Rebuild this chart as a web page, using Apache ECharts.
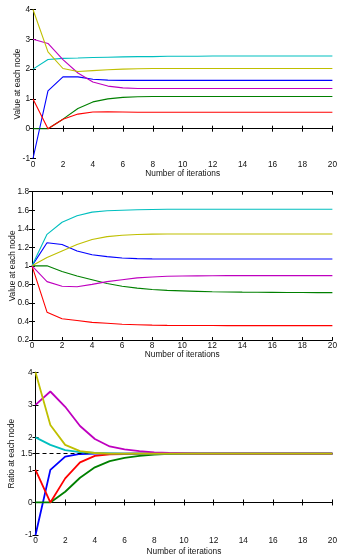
<!DOCTYPE html>
<html><head><meta charset="utf-8">
<script src="https://cdn.jsdelivr.net/npm/echarts@6/dist/echarts.min.js"></script>
<style>html,body{margin:0;padding:0;background:#fff}#c{width:340px;height:557px}</style>
</head><body><div id="c"></div>
<script>
const iterations = [0,1,2,3,4,5,6,7,8,9,10,11,12,13,14,15,16,17,18,19,20];
const xTicks = [0,2,4,6,8,10,12,14,16,18,20];

// Panel 1: value at each node
const p1Blue    = [-1,1.27,1.74,1.74,1.66,1.63,1.62,1.62,1.62,1.62,1.62,1.62,1.62,1.62,1.62,1.62,1.62,1.62,1.62,1.62,1.62];
const p1Green   = [0,0,0.32,0.68,0.90,1.00,1.05,1.07,1.08,1.08,1.08,1.08,1.08,1.08,1.08,1.08,1.08,1.08,1.08,1.08,1.08];
const p1Red     = [1,0,0.32,0.49,0.56,0.57,0.56,0.55,0.55,0.55,0.55,0.55,0.55,0.55,0.55,0.55,0.55,0.55,0.55,0.55,0.55];
const p1Cyan    = [2,2.32,2.36,2.37,2.39,2.40,2.41,2.42,2.42,2.43,2.43,2.43,2.44,2.44,2.44,2.44,2.44,2.44,2.44,2.44,2.44];
const p1Magenta = [3,2.86,2.32,1.87,1.57,1.43,1.37,1.35,1.35,1.35,1.35,1.35,1.35,1.35,1.35,1.35,1.35,1.35,1.35,1.35,1.35];
const p1Yellow  = [4,2.58,2.02,1.92,1.95,1.98,2.00,2.01,2.02,2.02,2.02,2.02,2.02,2.02,2.02,2.02,2.02,2.02,2.02,2.02,2.02];
const p1YTicks  = [-1,0,1,2,3,4];

// Panel 2: value at each node (normalized)
const p2Blue    = [1,1.25,1.23,1.16,1.12,1.10,1.085,1.078,1.075,1.074,1.074,1.074,1.074,1.074,1.074,1.074,1.074,1.074,1.074,1.074,1.074];
const p2Green   = [1,1.0,0.94,0.89,0.85,0.81,0.78,0.76,0.745,0.735,0.73,0.725,0.72,0.718,0.716,0.715,0.714,0.713,0.712,0.711,0.711];
const p2Red     = [1,0.50,0.43,0.41,0.39,0.38,0.37,0.365,0.36,0.358,0.357,0.356,0.356,0.355,0.355,0.355,0.355,0.355,0.355,0.355,0.355];
const p2Cyan    = [1,1.34,1.47,1.54,1.58,1.595,1.60,1.605,1.608,1.61,1.61,1.61,1.61,1.61,1.61,1.61,1.61,1.61,1.61,1.61,1.61];
const p2Magenta = [1,0.83,0.78,0.775,0.80,0.83,0.85,0.87,0.88,0.887,0.89,0.892,0.893,0.894,0.894,0.894,0.894,0.894,0.894,0.894,0.894];
const p2Yellow  = [1,1.09,1.16,1.23,1.285,1.315,1.33,1.338,1.342,1.344,1.344,1.344,1.344,1.344,1.344,1.344,1.344,1.344,1.344,1.344,1.344];
const p2YTicks  = [0.2,0.4,0.6,0.8,1,1.2,1.4,1.6,1.8];

// Panel 3: ratio at each node
const p3Blue    = [-1,1.0,1.41,1.49,1.50,1.50,1.50,1.50,1.50,1.50,1.50,1.50,1.50,1.50,1.50,1.50,1.50,1.50,1.50,1.50,1.50];
const p3Green   = [0,0,0.33,0.76,1.08,1.27,1.37,1.43,1.47,1.49,1.50,1.50,1.50,1.50,1.50,1.50,1.50,1.50,1.50,1.50,1.50];
const p3Red     = [1,0,0.74,1.23,1.43,1.48,1.49,1.50,1.50,1.50,1.50,1.50,1.50,1.50,1.50,1.50,1.50,1.50,1.50,1.50,1.50];
const p3Cyan    = [2,1.77,1.61,1.55,1.52,1.51,1.50,1.50,1.50,1.50,1.50,1.50,1.50,1.50,1.50,1.50,1.50,1.50,1.50,1.50,1.50];
const p3Magenta = [3,3.41,2.94,2.35,1.95,1.72,1.63,1.58,1.54,1.52,1.51,1.50,1.50,1.50,1.50,1.50,1.50,1.50,1.50,1.50,1.50];
const p3Yellow  = [4,2.38,1.77,1.58,1.52,1.50,1.50,1.50,1.50,1.50,1.50,1.50,1.50,1.50,1.50,1.50,1.50,1.50,1.50,1.50,1.50];
const p3YTicks  = [-1,0,1,1.5,2,3,4];
const consensus = 1.5;

const colors = ['#0000ff','#008000','#ff0000','#00bfbf','#bf00bf','#bfbf00'];
const FONT = "'Liberation Sans', Arial, sans-serif";
const FS = 8.3;

const panels = [
  {grid:{left:33,top:9.5,width:302,height:149}, ymin:-1,ymax:4,ticks:p1YTicks, yname:'Value at each node', ygap:11.5, xgap:11,
   data:[p1Blue,p1Green,p1Red,p1Cyan,p1Magenta,p1Yellow], lw:1.1},
  {grid:{left:32,top:191.7,width:301,height:148.3}, ymin:0.2,ymax:1.8,ticks:p2YTicks, yname:'Value at each node', ygap:15.5, xgap:10.5,
   data:[p2Blue,p2Green,p2Red,p2Cyan,p2Magenta,p2Yellow], lw:1.1},
  {grid:{left:34,top:372.3,width:299,height:162.7}, ymin:-1,ymax:4,ticks:p3YTicks, yname:'Ratio at each node', ygap:19.5, xgap:13,
   data:[p3Blue,p3Green,p3Red,p3Cyan,p3Magenta,p3Yellow], lw:1.8, target:consensus}
];

const grid=[], xAxis=[], yAxis=[], series=[];
const axLine = {show:true, lineStyle:{color:'#000', width:1}};
const tick = {show:true, inside:true, length:3, lineStyle:{color:'#000', width:1}};
panels.forEach((p,i)=>{
  grid.push(Object.assign({containLabel:false}, p.grid));
  xAxis.push({type:'value', gridIndex:i, position:'bottom', min:0, max:20, interval:2,
    axisLine:axLine, axisTick:tick, splitLine:{show:false},
    axisLabel:{color:'#111', fontFamily:FONT, fontSize:FS, margin:2},
    name:'Number of iterations', nameLocation:'middle', nameGap:p.xgap, nameMoveOverlap:false,
    nameTextStyle:{color:'#111', fontFamily:FONT, fontSize:FS, verticalAlign:'top'}});
  xAxis.push({type:'value', gridIndex:i, position:'top', min:0, max:20, interval:2,
    axisLine:axLine, axisTick:tick, splitLine:{show:false}, axisLabel:{show:false}});
  yAxis.push({type:'value', gridIndex:i, position:'left', min:p.ymin, max:p.ymax,
    axisLine:axLine, splitLine:{show:false},
    axisTick:Object.assign({customValues:p.ticks}, tick),
    axisLabel:{customValues:p.ticks, color:'#111', fontFamily:FONT, fontSize:FS, margin:3},
    name:p.yname, nameLocation:'middle', nameGap:p.ygap, nameRotate:90, nameMoveOverlap:false,
    nameTextStyle:{color:'#111', fontFamily:FONT, fontSize:FS}});
  yAxis.push({type:'value', gridIndex:i, position:'right', min:p.ymin, max:p.ymax,
    axisLine:axLine, splitLine:{show:false},
    axisTick:Object.assign({customValues:p.ticks}, tick), axisLabel:{show:false}});
  p.data.forEach((arr,k)=>{
    const s = {type:'line', xAxisIndex:2*i, yAxisIndex:2*i, symbol:'none', silent:true, animation:false,
      data: iterations.map((x,j)=>[x, arr[j]]),
      lineStyle:{color:colors[k], width:p.lw}, itemStyle:{color:colors[k]}, z:2+k};
    if (p.target !== undefined && k === p.data.length-1) {
      s.markLine = {silent:true, symbol:['none','none'], label:{show:false}, animation:false,
        lineStyle:{color:'#000', type:[4,3], width:1.2}, data:[{yAxis:p.target}]};
    }
    series.push(s);
  });
});

const chart = echarts.init(document.getElementById('c'), null, {renderer:'canvas'});
chart.setOption({animation:false, backgroundColor:'#fff', grid, xAxis, yAxis, series});
</script>
</body></html>
